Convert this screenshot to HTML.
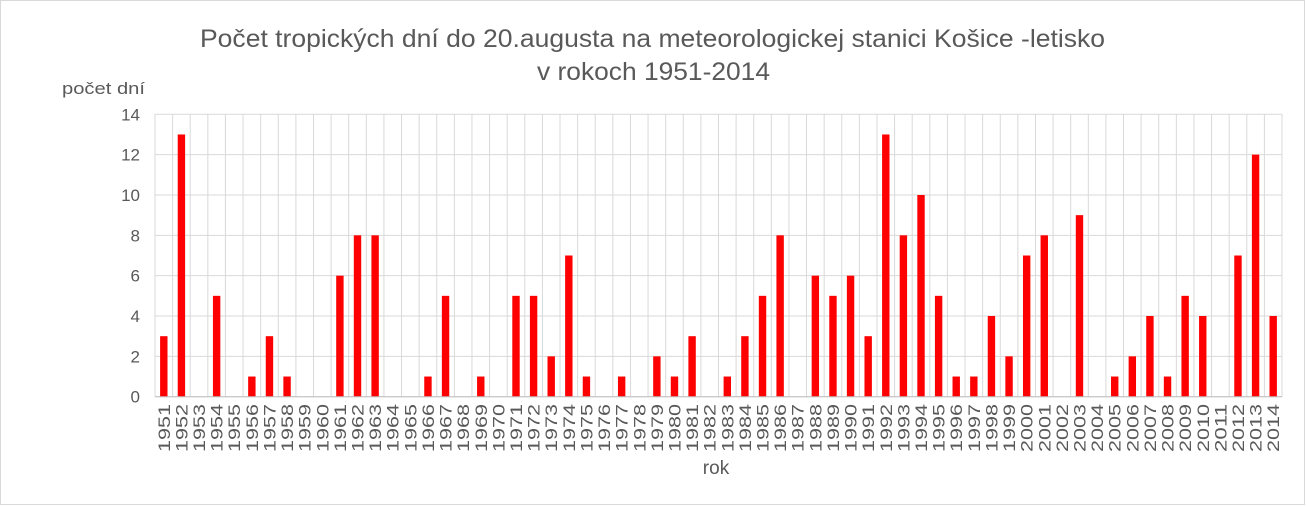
<!DOCTYPE html>
<html><head><meta charset="utf-8"><style>
html,body{margin:0;padding:0;background:#fff;}
svg{display:block;font-family:"Liberation Sans",sans-serif;}
</style></head><body>
<svg id="c" width="1306" height="506" xmlns="http://www.w3.org/2000/svg">
<rect x="0.5" y="0.5" width="1304" height="504" fill="#fff" stroke="#d9d9d9"/>
<text x="200" y="47" font-size="25" fill="#595959" textLength="905" lengthAdjust="spacingAndGlyphs">Počet tropických dní do 20.augusta na meteorologickej stanici Košice -letisko</text>
<text x="537" y="80" font-size="25" fill="#595959" textLength="233" lengthAdjust="spacingAndGlyphs">v rokoch 1951-2014</text>
<text x="62" y="94" font-size="17" fill="#595959" textLength="83" lengthAdjust="spacingAndGlyphs">počet dní</text>
<text x="716" y="474" text-anchor="middle" font-size="19" fill="#595959">rok</text>
<g id="g"></g>
</svg>
<script>
var d=[3,13,0,5,0,1,3,1,0,0,6,8,8,0,0,1,5,0,1,0,5,5,2,7,1,0,1,0,2,1,3,0,1,3,5,8,0,6,5,6,3,13,8,10,5,1,1,4,2,7,8,0,9,0,1,2,4,1,5,4,0,7,12,4];
var L=155,R=1282,T=114.3,B=396.7,n=64,w=(R-L)/n,s=(B-T)/14,h='';
for(var v=0;v<=14;v+=2){var y=B-v*s;h+='<line x1="'+L+'" x2="'+R+'" y1="'+y+'" y2="'+y+'" stroke="#d9d9d9"/>';
h+='<text x="140" y="'+(y+6)+'" text-anchor="end" font-size="17" fill="#595959">'+v+'</text>';}
for(var i=0;i<=n;i++){var x=L+i*w;h+='<line x1="'+x+'" x2="'+x+'" y1="'+T+'" y2="'+B+'" stroke="#d9d9d9"/>';}
for(var i=0;i<n;i++){var c=L+i*w+w/2;
if(d[i]>0)h+='<rect x="'+(c-3.7)+'" y="'+(B-d[i]*s)+'" width="7.4" height="'+(d[i]*s)+'" fill="#ff0000"/>';
h+='<text transform="translate('+(c+6)+',452) rotate(-90)" font-size="17" fill="#595959" textLength="48" lengthAdjust="spacingAndGlyphs">'+(1951+i)+'</text>';}
h+='<line x1="'+L+'" x2="'+R+'" y1="'+B+'" y2="'+B+'" stroke="#bfbfbf"/>';
document.getElementById('g').innerHTML=h;
</script>
</body></html>
